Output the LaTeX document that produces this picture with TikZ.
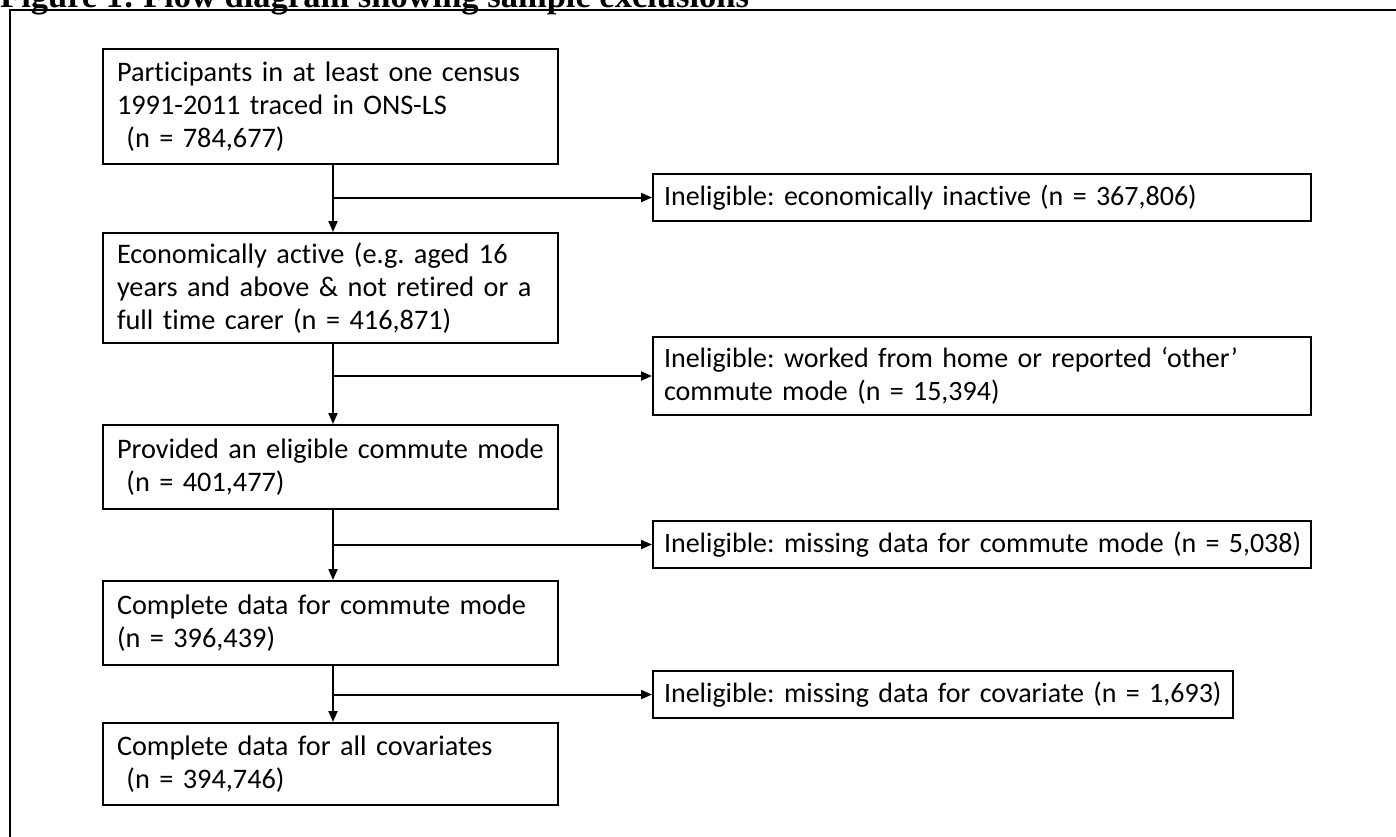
\documentclass[tikz,border=0pt]{standalone}
\usepackage{fontspec}
\setmainfont{Carlito}[Ligatures=NoCommon]
\newfontfamily\titlefont{Liberation Serif}
\usetikzlibrary{arrows.meta,calc}
\frenchspacing
\newcommand\tline[1]{\mbox{#1}}
\begin{document}
\begin{tikzpicture}[x=1pt,y=-1pt,
  lbox/.style={draw=black,line width=2pt,anchor=north west,inner xsep=14pt,inner ysep=4pt,
    align=left,font=\fontsize{28.3}{33}\selectfont,minimum width=455pt,text width=427pt},
  rbox/.style={draw=black,line width=2pt,anchor=north west,inner xsep=11pt,inner ysep=4pt,
    align=left,font=\fontsize{28}{33}\selectfont},
  arr/.style={line width=2pt,-{Triangle[length=11pt,width=9pt]}},
  frame/.style={line width=2pt}]
\useasboundingbox (0,0) rectangle (1396,836);
\clip (0,0) rectangle (1396,836);
\node[anchor=base west,inner sep=0pt,font=\titlefont\bfseries\fontsize{34.5}{36}\selectfont] (title) at (0,7) {Figure 1: Flow diagram showing sample exclusions};
\coordinate (fc) at (10,10);
\coordinate (fr) at (1500,10);
\coordinate (fb) at (10,900);
\draw[frame] (fb) -- (fc) -- (fr);
% left column
\node[lbox,minimum height=115pt] (b1) at (102,48) {\tline{Participants in at least one census}\\\tline{1991-2011 traced in ONS-LS}\\\tline{\ (n = 784,677)}};
\node[lbox,minimum height=110pt] (b2) at (102,232) {\tline{Economically active (e.g. aged 16}\\\tline{years and above \& not retired or a}\\\tline{full time carer (n = 416,871)}};
\node[lbox,minimum height=84pt] (b3) at (102,424) {\tline{Provided an eligible commute mode}\\\tline{\ (n = 401,477)}};
\node[lbox,minimum height=84pt] (b4) at (102,580) {\tline{Complete data for commute mode}\\\tline{(n = 396,439)}};
\node[lbox,minimum height=82pt] (b5) at (102,722) {\tline{Complete data for all covariates}\\\tline{\ (n = 394,746)}};
% right column
\node[rbox,minimum width=658pt,minimum height=47pt,text width=636pt] (r1) at (652,173) {\tline{Ineligible: economically inactive (n = 367,806)}};
\node[rbox,minimum width=658pt,minimum height=78pt,text width=636pt] (r2) at (652,336) {\tline{Ineligible: worked from home or reported `other'}\\\tline{commute mode (n = 15,394)}};
\node[rbox,minimum width=658pt,minimum height=47pt,text width=636pt] (r3) at (652,520) {\tline{Ineligible: missing data for commute mode (n = 5,038)}};
\node[rbox,minimum width=580pt,minimum height=47pt,text width=558pt] (r4) at (652,670) {\tline{Ineligible: missing data for covariate (n = 1,693)}};
% connectors
\coordinate (v) at (333,0);
\draw[arr] (b1.south -| v) -- (b2.north -| v);
\draw[arr] (r1.west -| v) -- (r1.west);
\draw[arr] (b2.south -| v) -- (b3.north -| v);
\draw[arr] (r2.west -| v) -- (r2.west);
\draw[arr] (b3.south -| v) -- (b4.north -| v);
\draw[arr] (r3.west -| v) -- (r3.west);
\draw[arr] (b4.south -| v) -- (b5.north -| v);
\draw[arr] (r4.west -| v) -- (r4.west);
\end{tikzpicture}
\end{document}
